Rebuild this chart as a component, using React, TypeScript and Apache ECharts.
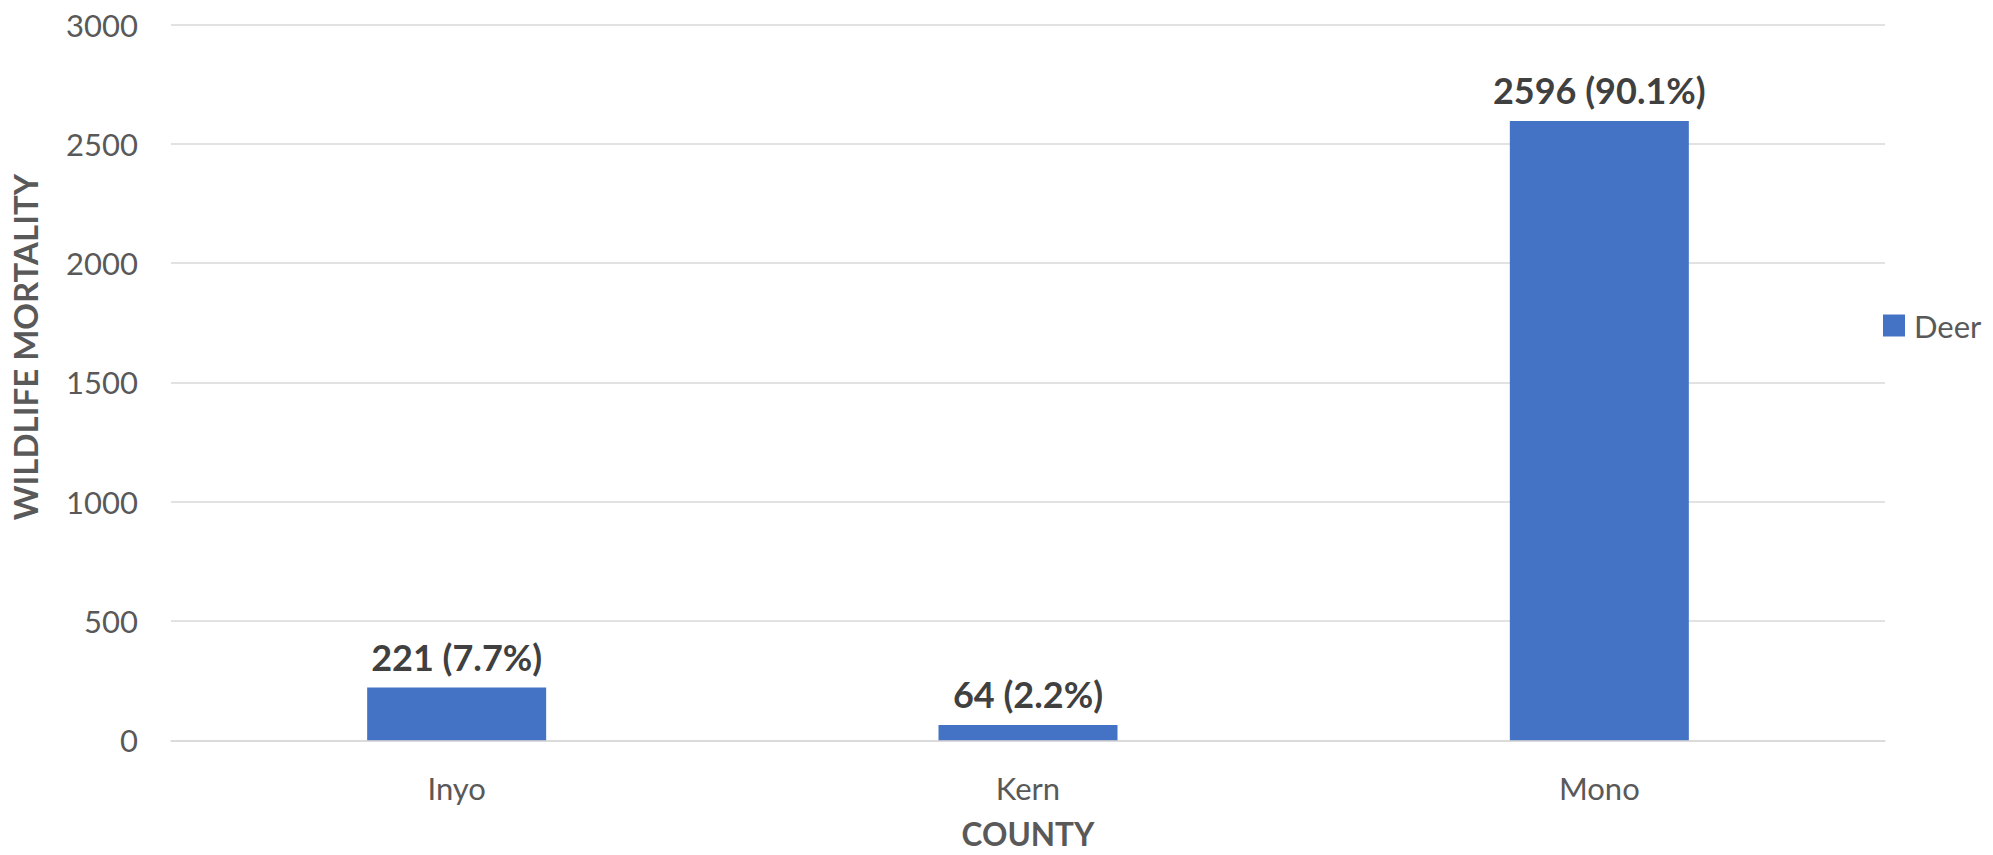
import React, { useEffect, useRef } from "react";
import * as echarts from "echarts";

const categories = ["Inyo", "Kern", "Mono"];
const deerValues = [221, 64, 2596];
const deerPercents = [7.7, 2.2, 90.1];
const seriesName = "Deer";
const yTitle = "WILDLIFE MORTALITY";
const xTitle = "COUNTY";

const FONT = "Lato, 'Open Sans', sans-serif";

export default function App() {
  const ref = useRef<HTMLDivElement>(null);
  useEffect(() => {
    document.body.style.margin = "0";
    const chart = echarts.init(ref.current!, null, { renderer: "svg" });
    chart.setOption({
      animation: false,
      backgroundColor: "#ffffff",
      textStyle: { fontFamily: FONT },
      grid: {
        left: 171,
        right: 108,
        top: 24.5,
        bottom: 114.7,
        containLabel: false,
        outerBoundsMode: "none",
      },
      legend: {
        orient: "vertical",
        left: 1878,
        top: 305,
        itemWidth: 22,
        itemHeight: 22,
        icon: "rect",
        data: [seriesName],
        textStyle: { fontFamily: FONT, fontSize: 31, color: "#595959", padding: [0, 0, 0, 4] },
      },
      xAxis: {
        type: "category",
        data: categories,
        name: xTitle,
        nameLocation: "middle",
        nameGap: 79,
        nameTextStyle: {
          fontFamily: FONT,
          fontSize: 31.5,
          lineHeight: 30,
          fontWeight: "bold",
          color: "#595959",
        },
        axisLine: { show: true, lineStyle: { color: "#D9D9D9", width: 1.5 } },
        axisTick: { show: false },
        axisLabel: { fontFamily: FONT, fontSize: 31, color: "#595959", margin: 32 },
      },
      yAxis: {
        type: "value",
        min: 0,
        max: 3000,
        interval: 500,
        axisLine: { show: false },
        axisTick: { show: false },
        axisLabel: {
          fontFamily: FONT,
          fontSize: 31,
          color: "#595959",
          margin: 33,
          formatter: (v: number) => String(v),
        },
        splitLine: { lineStyle: { color: "#D9D9D9", width: 1.5 } },
      },
      graphic: [
        {
          type: "text",
          x: 25,
          y: 347,
          rotation: Math.PI / 2,
          style: {
            text: yTitle,
            fontFamily: FONT,
            fontSize: 33,
            fontWeight: "bold",
            fill: "#595959",
            align: "center",
            verticalAlign: "middle",
          },
        },
      ],
      series: [
        {
          name: seriesName,
          type: "bar",
          data: deerValues,
          barWidth: 179,
          itemStyle: { color: "#4472C4" },
          label: {
            show: true,
            position: "top",
            distance: 13,
            fontFamily: FONT,
            fontSize: 36,
            fontWeight: "bold",
            color: "#404040",
            formatter: (p: any) => `${p.value} (${deerPercents[p.dataIndex]}%)`,
          },
        },
      ],
    });
    return () => chart.dispose();
  }, []);
  return <div ref={ref} style={{ width: 1993, height: 855 }} />;
}
